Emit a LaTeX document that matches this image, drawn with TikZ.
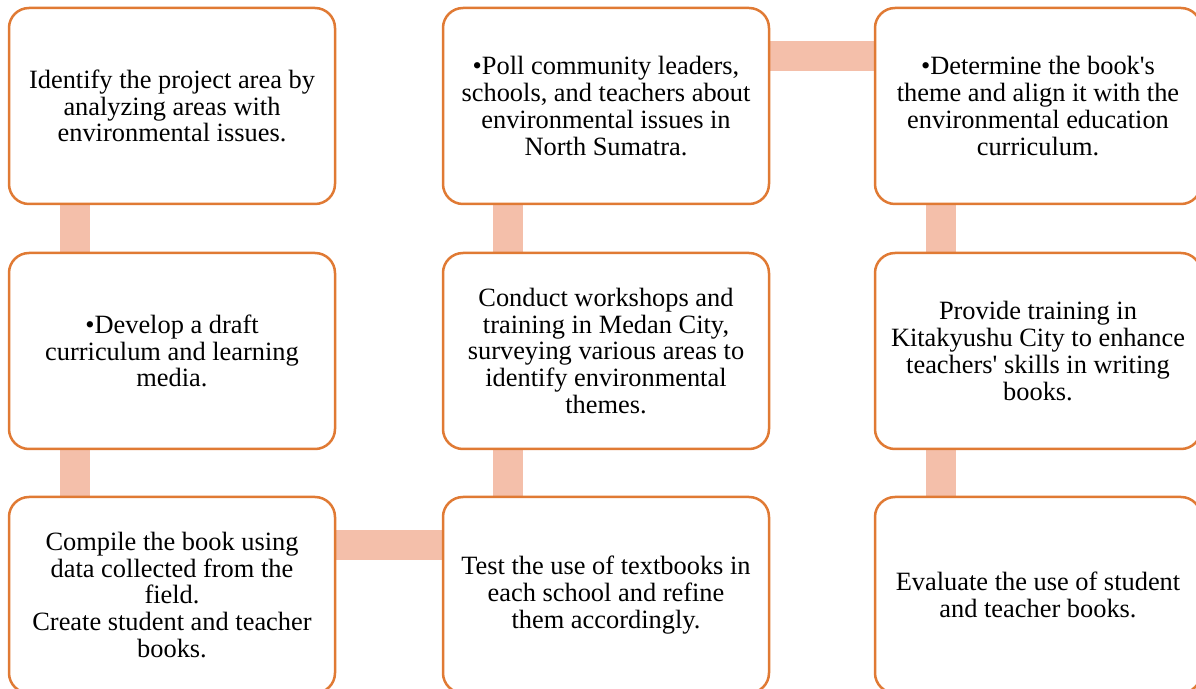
\documentclass[tikz,border=0pt]{standalone}
\usepackage{fontspec}
\setmainfont{Liberation Serif}
\usetikzlibrary{backgrounds}
\definecolor{boxline}{RGB}{224,122,52}
\definecolor{barfill}{RGB}{244,191,170}
\newcommand{\apos}{\textquotesingle}

\begin{document}
\begin{tikzpicture}[x=0.5pt, y=-0.5pt,
    stepbox/.style={draw=boxline, line width=1.25pt, fill=white, rounded corners=10pt,
      minimum width=163pt, minimum height=98pt, inner sep=0pt, align=center,
      font=\fontsize{13.2}{13.4}\selectfont},
    bar/.style={draw=barfill, line width=15pt}]
      \clip (0,0) rectangle (1196,689);
      \node[stepbox] (area) at (172, 106) {Identify the project area by\\analyzing areas with\\environmental issues.};
      \node[stepbox] (poll) at (606, 106) {•Poll community leaders,\\schools, and teachers about\\environmental issues in\\North Sumatra.};
      \node[stepbox] (theme) at (1038, 106) {•Determine the book\apos s\\theme and align it with the\\environmental education\\curriculum.};
      \node[stepbox] (draft) at (172, 351) {•Develop a draft\\curriculum and learning\\media.};
      \node[stepbox] (workshop) at (606, 351) {Conduct workshops and\\training in Medan City,\\surveying various areas to\\identify environmental\\themes.};
      \node[stepbox] (training) at (1038, 351) {Provide training in\\Kitakyushu City to enhance\\teachers\apos{} skills in writing\\books.};
      \node[stepbox] (compile) at (172, 595) {Compile the book using\\data collected from the\\field.\\Create student and teacher\\books.};
      \node[stepbox] (test) at (606, 595) {Test the use of textbooks in\\each school and refine\\them accordingly.};
      \node[stepbox] (evaluate) at (1038, 595) {Evaluate the use of student\\and teacher books.};
      \begin{scope}[on background layer]
      \draw[bar] ([xshift=33.5pt]area.south west) -- ([xshift=33.5pt]draft.north west);
      \draw[bar] ([xshift=33.5pt]draft.south west) -- ([xshift=33.5pt]compile.north west);
      \draw[bar] ([yshift=-24.5pt]compile.north east) -- ([yshift=-24.5pt]test.north west);
      \draw[bar] ([xshift=33pt]test.north west) -- ([xshift=33pt]workshop.south west);
      \draw[bar] ([xshift=33pt]workshop.north west) -- ([xshift=33pt]poll.south west);
      \draw[bar] ([yshift=-24.5pt]poll.north east) -- ([yshift=-24.5pt]theme.north west);
      \draw[bar] ([xshift=33.5pt]theme.south west) -- ([xshift=33.5pt]training.north west);
      \draw[bar] ([xshift=33.5pt]training.south west) -- ([xshift=33.5pt]evaluate.north west);
      \end{scope}
   \end{tikzpicture}
\end{document}
